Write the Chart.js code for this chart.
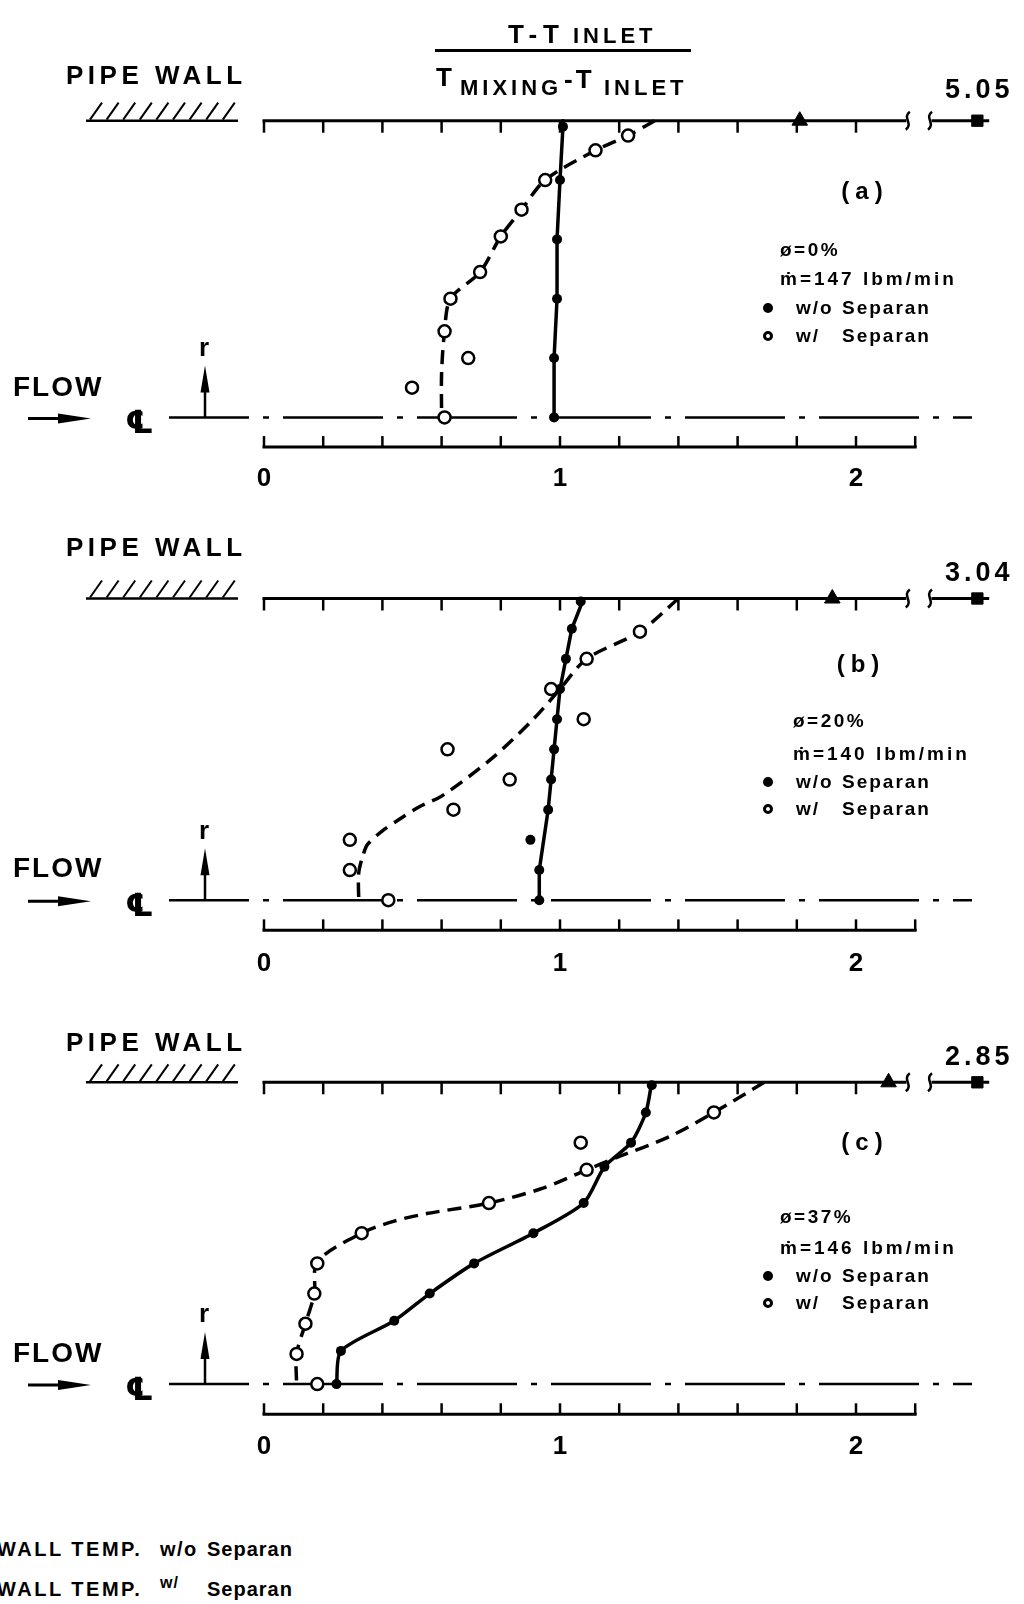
<!DOCTYPE html>
<html>
<head>
<meta charset="utf-8">
<title>Radial temperature profiles with and without Separan</title>
<script src="https://cdn.jsdelivr.net/npm/chart.js@4.4.1/dist/chart.umd.min.js"></script>
<style>
  html, body { margin: 0; padding: 0; background: #fff; }
  #page { position: relative; width: 1024px; height: 1604px; overflow: hidden; background: #fff; }
  #page canvas { position: absolute; left: 0; }
  .lbl { position: absolute; white-space: nowrap; line-height: 1; color: #000; font-weight: bold;
         font-family: "Liberation Sans Narrow", "Liberation Sans", Arial, sans-serif; }
  .dot { position: absolute; width: 10px; height: 10px; border-radius: 50%; background: #000; box-sizing: border-box; }
  .ring { background: #fff; border: 3px solid #000; }
  .bar { position: absolute; background: #000; }
</style>
</head>
<body>
<div id="page">
  <canvas id="panelA" width="1024" height="505" style="top:0px"></canvas>
  <canvas id="panelB" width="1024" height="490" style="top:505px"></canvas>
  <canvas id="panelC" width="1024" height="500" style="top:995px"></canvas>
</div>
<script>
// (T - T_inlet) / (T_mixing - T_inlet) across the pipe radius
// r/R = 0 is the centre line, r/R = 1 the pipe wall

const tickLabels = [0, 1, 2];
const offScaleAt = 2.41;          // where values past the axis break are plotted

// wall temperatures for (a), (b), (c)
const wallWithout = [1.81, 1.92, 2.11];
const wallWith = [5.05, 3.04, 2.85];

const panelTags = ['a', 'b', 'c'];
const voidFraction = ['0%', '20%', '37%'];
const massFlow = [147, 140, 146];

// (a) 0 %
const aWithoutR = [0.98, 0.80, 0.60, 0.40, 0.20, 0.00];
const aWithoutT = [1.01, 1.00, 0.99, 0.99, 0.98, 0.98];
const aWithR = [0.95, 0.90, 0.80, 0.70, 0.61, 0.49, 0.40, 0.29, 0.20, 0.10, 0.00];
const aWithT = [1.23, 1.12, 0.95, 0.87, 0.80, 0.73, 0.63, 0.61, 0.69, 0.50, 0.61];
const aSolidR = [1.00, 0.98, 0.80, 0.60, 0.40, 0.20, 0.00];
const aSolidT = [1.01, 1.01, 1.00, 0.99, 0.99, 0.98, 0.98];
const aDashR = [1.00, 0.95, 0.90, 0.80, 0.70, 0.61, 0.49, 0.40, 0.29, 0.15, 0.00];
const aDashT = [1.32, 1.23, 1.12, 0.95, 0.87, 0.80, 0.73, 0.63, 0.61, 0.60, 0.60];

// (b) 20 %
const bWithoutR = [0.99, 0.90, 0.80, 0.70, 0.60, 0.50, 0.40, 0.30, 0.20, 0.10, 0.00];
const bWithoutT = [1.07, 1.04, 1.02, 1.00, 0.99, 0.98, 0.97, 0.96, 0.90, 0.93, 0.93];
const bWithR = [0.89, 0.80, 0.70, 0.60, 0.50, 0.40, 0.30, 0.20, 0.10, 0.00];
const bWithT = [1.27, 1.09, 0.97, 1.08, 0.62, 0.83, 0.64, 0.29, 0.29, 0.42];
const bSolidR = [1.00, 0.90, 0.80, 0.70, 0.60, 0.50, 0.40, 0.30, 0.10, 0.00];
const bSolidT = [1.08, 1.04, 1.02, 1.00, 0.99, 0.98, 0.97, 0.96, 0.93, 0.93];
const bDashR = [1.00, 0.89, 0.80, 0.70, 0.60, 0.47, 0.345, 0.31, 0.27, 0.23, 0.185, 0.15, 0.09, 0.00];
const bDashT = [1.40, 1.27, 1.09, 1.00, 0.91, 0.77, 0.60, 0.525, 0.46, 0.40, 0.35, 0.335, 0.32, 0.32];

// (c) 37 %
const cWithoutR = [0.99, 0.90, 0.80, 0.72, 0.60, 0.50, 0.40, 0.30, 0.21, 0.11, 0.00];
const cWithoutT = [1.31, 1.29, 1.24, 1.15, 1.08, 0.91, 0.71, 0.56, 0.44, 0.26, 0.245];
const cWithR = [0.90, 0.80, 0.71, 0.60, 0.50, 0.40, 0.30, 0.20, 0.10, 0.00];
const cWithT = [1.52, 1.07, 1.09, 0.76, 0.33, 0.18, 0.17, 0.14, 0.11, 0.18];
const cSolidR = [1.00, 0.90, 0.80, 0.72, 0.60, 0.50, 0.40, 0.30, 0.21, 0.11, 0.00];
const cSolidT = [1.31, 1.29, 1.24, 1.15, 1.08, 0.91, 0.71, 0.56, 0.44, 0.26, 0.245];
const cDashR = [1.00, 0.90, 0.82, 0.75, 0.71, 0.65, 0.60, 0.565, 0.54, 0.50, 0.405, 0.30, 0.20, 0.10, 0.00];
const cDashT = [1.69, 1.52, 1.37, 1.19, 1.09, 0.945, 0.76, 0.55, 0.44, 0.33, 0.18, 0.17, 0.14, 0.11, 0.11];

const panelData = [
  { withoutT: aWithoutT, withoutR: aWithoutR, withT: aWithT, withR: aWithR,
    solidT: aSolidT, solidR: aSolidR, dashT: aDashT, dashR: aDashR },
  { withoutT: bWithoutT, withoutR: bWithoutR, withT: bWithT, withR: bWithR,
    solidT: bSolidT, solidR: bSolidR, dashT: bDashT, dashR: bDashR },
  { withoutT: cWithoutT, withoutR: cWithoutR, withT: cWithT, withR: cWithR,
    solidT: cSolidT, solidR: cSolidR, dashT: cDashT, dashR: cDashR }
];

// page layout (pixels)
const X_ORIGIN = 264, PX_PER_UNIT = 296;
const panelGeom = [
  { canvas: 'panelA', top: 0, height: 505, wall: 120.7, centre: 417.4, pad: 19,
    pipeWallBase: 84, flowBase: 397, rBase: 356, tagBase: 199, tagX: 862, valueGap: 22,
    legX: 780, keyX: 780, legBases: [256, 285, 314, 342] },
  { canvas: 'panelB', top: 505, height: 490, wall: 598.5, centre: 900.2, pad: 20,
    pipeWallBase: 556, flowBase: 878, rBase: 839, tagBase: 672, tagX: 858, valueGap: 17,
    legX: 793, keyX: 780, legBases: [727, 760, 788, 815] },
  { canvas: 'panelC', top: 995, height: 500, wall: 1082.3, centre: 1384.1, pad: 20,
    pipeWallBase: 1051, flowBase: 1363, rBase: 1322, tagBase: 1150, tagX: 862, valueGap: 16,
    legX: 780, keyX: 780, legBases: [1223, 1254, 1282, 1309] }
];

const page = document.getElementById('page');

function addText(str, x, baseline, size, extra) {
  const el = document.createElement('div');
  el.className = 'lbl';
  el.textContent = str;
  el.style.left = x + 'px';
  el.style.top = (baseline - 0.8465 * size) + 'px';
  el.style.fontSize = size + 'px';
  Object.assign(el.style, extra || {});
  page.appendChild(el);
  return el;
}

function addDot(cx, cy, open) {
  const el = document.createElement('div');
  el.className = open ? 'dot ring' : 'dot';
  el.style.left = (cx - 5) + 'px';
  el.style.top = (cy - 5) + 'px';
  page.appendChild(el);
}

function pts(xs, ys) {
  return xs.map((v, i) => ({ x: v, y: ys[i] }));
}

function seg(ctx, x1, y1, x2, y2) {
  ctx.beginPath();
  ctx.moveTo(x1, y1);
  ctx.lineTo(x2, y2);
  ctx.stroke();
}

// axes, pipe wall, centre line and arrows
const pipeFigure = {
  id: 'pipeFigure',
  beforeDatasetsDraw(chart) {
    const ctx = chart.ctx;
    const xs = chart.scales.x, ys = chart.scales.y;
    const X = v => xs.getPixelForValue(v);
    const wallY = ys.getPixelForValue(1);
    const axisY = ys.getPixelForValue(0);
    const baseY = ys.getPixelForValue(-0.1);
    ctx.save();
    ctx.strokeStyle = '#000';
    ctx.fillStyle = '#000';

    // wall axis, ticks hang down, broken before the off-scale points
    ctx.lineWidth = 3;
    seg(ctx, X(0) - 1.5, wallY, X(2.17), wallY);
    seg(ctx, X(2.255), wallY, X(2.45), wallY);
    ctx.lineWidth = 2.5;
    for (let i = 0; i <= 10; i++) seg(ctx, X(i * 0.2), wallY, X(i * 0.2), wallY + 12);
    [2.175, 2.25].forEach(v => {
      const bx = X(v);
      ctx.beginPath();
      ctx.moveTo(bx + 2, wallY - 9);
      ctx.bezierCurveTo(bx - 6, wallY - 3, bx + 6, wallY + 3, bx - 2, wallY + 9);
      ctx.stroke();
    });

    // hatching for the pipe wall
    ctx.lineWidth = 2.5;
    seg(ctx, 86, wallY, 238, wallY);
    ctx.lineWidth = 2;
    for (let i = 0; i < 9; i++) {
      const bx = 90 + i * 16.6;
      seg(ctx, bx, wallY - 1, bx + 12, wallY - 18);
    }

    // centre line
    ctx.lineWidth = 2.5;
    ctx.setLineDash([100, 14, 6, 14]);
    ctx.lineDashOffset = 20;
    seg(ctx, 169, axisY, 972, axisY);
    ctx.setLineDash([]);

    // r arrow
    seg(ctx, 205, axisY, 205, axisY - 30);
    ctx.beginPath();
    ctx.moveTo(205, axisY - 52);
    ctx.lineTo(209.5, axisY - 25);
    ctx.lineTo(200.5, axisY - 25);
    ctx.closePath();
    ctx.fill();

    // flow arrow
    ctx.lineWidth = 3;
    seg(ctx, 28, axisY + 1, 62, axisY + 1);
    ctx.beginPath();
    ctx.moveTo(91, axisY + 1);
    ctx.lineTo(58, axisY - 4);
    ctx.lineTo(58, axisY + 6);
    ctx.closePath();
    ctx.fill();

    // lower temperature axis, ticks point up
    ctx.lineWidth = 3;
    seg(ctx, X(0) - 1.5, baseY, X(2.2) + 1.5, baseY);
    ctx.lineWidth = 2.5;
    for (let i = 0; i <= 11; i++) seg(ctx, X(i * 0.2), baseY, X(i * 0.2), baseY - 11);
    ctx.restore();
  }
};

function makePanel(i) {
  const g = panelGeom[i], d = panelData[i];
  const unit = g.centre - g.wall;
  const padTop = 10;
  const areaBottom = g.centre + 0.1 * unit;
  const scaleHeight = g.top + g.height - areaBottom;
  const plotWith = wallWith[i] > 2.2 ? offScaleAt : wallWith[i];

  const chart = new Chart(document.getElementById(g.canvas), {
    type: 'scatter',
    data: {
      datasets: [
        { data: [{ x: plotWith, y: 1 }], pointStyle: 'rect', pointRadius: 8,
          pointBackgroundColor: '#000', pointBorderColor: '#000', clip: false },
        { data: [{ x: wallWithout[i], y: 1 }], pointStyle: 'triangle', pointRadius: 9,
          pointBackgroundColor: '#000', pointBorderColor: '#000', clip: false },
        { data: pts(d.withT, d.withR), pointRadius: 6, pointBorderWidth: 2.5,
          pointBackgroundColor: '#fff', pointBorderColor: '#000', clip: false },
        { data: pts(d.withoutT, d.withoutR), pointRadius: 5, pointBorderWidth: 0,
          pointBackgroundColor: '#000', pointBorderColor: '#000', clip: false },
        { data: pts(d.dashT, d.dashR), showLine: true, pointRadius: 0, borderColor: '#000',
          borderWidth: 3.5, borderDash: [14, 8], tension: 0.3, clip: false },
        { data: pts(d.solidT, d.solidR), showLine: true, pointRadius: 0, borderColor: '#000',
          borderWidth: 3.5, tension: i === 2 ? 0.25 : 0, borderJoinStyle: 'round', clip: false }
      ]
    },
    options: {
      responsive: false,
      animation: false,
      devicePixelRatio: 1,
      events: [],
      layout: { padding: { top: padTop, left: 0, right: 0, bottom: 0 } },
      plugins: { legend: { display: false }, tooltip: { enabled: false } },
      scales: {
        x: {
          type: 'linear',
          min: -X_ORIGIN / PX_PER_UNIT,
          max: (1024 - X_ORIGIN) / PX_PER_UNIT,
          grid: { display: false, drawTicks: false, tickLength: 0 },
          border: { display: false },
          ticks: {
            padding: g.pad,
            color: '#000',
            font: { family: '"Liberation Sans Narrow", "Liberation Sans", Arial, sans-serif',
                    size: 26, weight: 'bold', lineHeight: 1 }
          },
          afterBuildTicks: s => { s.ticks = tickLabels.map(v => ({ value: v })); },
          afterFit: s => { s.height = scaleHeight; }
        },
        y: { type: 'linear', min: -0.1, max: 1.3, display: false }
      }
    },
    plugins: [pipeFigure]
  });

  // pin the scales to the page: T* = 0 at X_ORIGIN, wall and centre line where drawn
  const area = chart.chartArea;
  chart.options.scales.x.min = (area.left - X_ORIGIN) / PX_PER_UNIT;
  chart.options.scales.x.max = (area.right - X_ORIGIN) / PX_PER_UNIT;
  chart.options.scales.y.min = (g.centre - (g.top + area.bottom)) / unit;
  chart.options.scales.y.max = (g.centre - (g.top + area.top)) / unit;
  chart.update();

  // off-scale wall value written above its marker
  const vx = chart.scales.x.getPixelForValue(plotWith);
  const vy = g.top + chart.scales.y.getPixelForValue(1);
  addText(wallWith[i].toFixed(2), vx + 2, vy - g.valueGap, 27,
          { transform: 'translateX(-50%)', letterSpacing: '4px' });

  // panel labels
  addText('PIPE WALL', 66, g.pipeWallBase, 26, { letterSpacing: '4.5px' });
  addText('FLOW', 13, g.flowBase, 28, { letterSpacing: '2px' });
  addText('\u2104', 125, g.centre + 16, 32, { fontFamily: '"DejaVu Sans", sans-serif', fontWeight: 'bold' });
  addText('r', 199, g.rBase, 26);
  addText('(' + panelTags[i] + ')', g.tagX, g.tagBase, 24,
          { transform: 'translateX(-50%)', letterSpacing: '6px', paddingLeft: '6px' });

  // legend block
  const L = g.legX, K = g.keyX, b = g.legBases;
  addText('\u00f8=' + voidFraction[i], L, b[0], 19, { letterSpacing: '2.5px' });
  addText('\u1e41=' + massFlow[i] + ' lbm/min', L, b[1], 19, { letterSpacing: '3px' });
  addDot(K - 12, b[2] - 6.5, false);
  addDot(K - 12, b[3] - 6.5, true);
  addText('w/o', K + 16, b[2], 19, { letterSpacing: '2px' });
  addText('Separan', K + 62, b[2], 19, { letterSpacing: '2px' });
  addText('w/', K + 16, b[3], 19, { letterSpacing: '2px' });
  addText('Separan', K + 62, b[3], 19, { letterSpacing: '2px' });
}

// title: the normalised temperature
addText('T-T', 508, 43, 26, { letterSpacing: '6px' });
addText('INLET', 573, 43.5, 22, { letterSpacing: '4px' });
const bar = document.createElement('div');
bar.className = 'bar';
Object.assign(bar.style, { left: '435px', top: '48.5px', width: '256px', height: '3px' });
page.appendChild(bar);
addText('T', 436, 86, 26);
addText('MIXING', 460, 96, 22, { letterSpacing: '4px' });
addText('-T', 564, 88, 26, { letterSpacing: '3px' });
addText('INLET', 604, 96, 22, { letterSpacing: '4px' });

[0, 1, 2].forEach(makePanel);

// wall temperature key, cut at the left edge as in the original
addText('WALL TEMP.', -3, 1556, 20, { letterSpacing: '2.5px' });
addText('w/o', 160, 1556, 20, { letterSpacing: '1.5px' });
addText('Separan', 207, 1556, 20, { letterSpacing: '1px' });
addText('WALL TEMP.', -3, 1596, 20, { letterSpacing: '2.5px' });
addText('w/', 160, 1589, 16, { letterSpacing: '1px' });
addText('Separan', 207, 1596, 20, { letterSpacing: '1px' });
</script>
</body>
</html>
